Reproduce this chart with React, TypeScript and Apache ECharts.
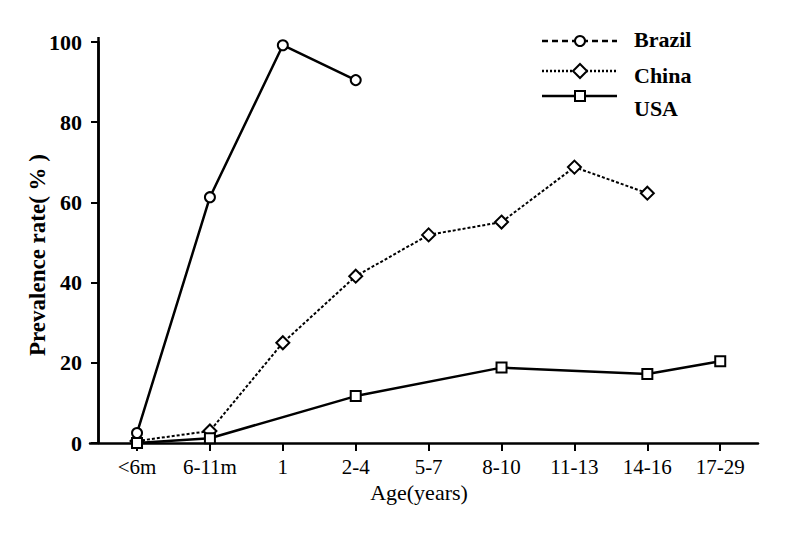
import React, { useEffect, useRef } from "react";
import * as echarts from "echarts";

const categories = ["<6m", "6-11m", "1", "2-4", "5-7", "8-10", "11-13", "14-16", "17-29"];
const brazil: (number | null)[] = [2.5, 61.3, 99.2, 90.5, null, null, null, null, null];
const china: (number | null)[] = [0.5, 3, 25, 41.6, 51.9, 55.1, 68.8, 62.3, null];
const usa: (number | null)[] = [0, 1.2, null, 11.7, null, 18.8, null, 17.2, 20.4];
const legendNames = ["Brazil", "China", "USA"];

const FONT = "'Liberation Serif', 'DejaVu Serif', serif";
const X_OFFSET = 0.535; // gap between y axis and first category, in category units
const X_MIN = -0.11;
const X_MAX = 9.053;

const toPairs = (arr: (number | null)[]) => arr.map((v, i) => [i + X_OFFSET, v]);

export default function App() {
  const ref = useRef<HTMLDivElement>(null);
  useEffect(() => {
    if (!ref.current) return;
    const chart = echarts.init(ref.current, null, { renderer: "svg" });
    const idx = categories.map((_, i) => i + X_OFFSET);
    const markerStyle = { color: "#fff", borderColor: "#000", borderWidth: 2 };

    const legendY = [41, 71, 96];
    const legendTextY = [39, 75, 108];
    const legendDash: any[] = [[6, 4], [2, 2], null];
    const legendGraphics: any[] = [];
    legendNames.forEach((name, i) => {
      legendGraphics.push({
        type: "line",
        shape: { x1: 542, y1: legendY[i], x2: 617, y2: legendY[i] },
        style: { stroke: "#000", lineWidth: 2.5, lineDash: legendDash[i] || undefined },
      });
      if (i === 0) {
        legendGraphics.push({ type: "circle", shape: { cx: 580, cy: legendY[i], r: 5 }, style: { fill: "#fff", stroke: "#000", lineWidth: 2 } });
      } else if (i === 1) {
        legendGraphics.push({
          type: "polygon",
          shape: { points: [[580, legendY[i] - 7], [587, legendY[i]], [580, legendY[i] + 7], [573, legendY[i]]] },
          style: { fill: "#fff", stroke: "#000", lineWidth: 2 },
        });
      } else {
        legendGraphics.push({ type: "rect", shape: { x: 575, y: legendY[i] - 5, width: 10, height: 10 }, style: { fill: "#fff", stroke: "#000", lineWidth: 2 } });
      }
      legendGraphics.push({
        type: "text",
        x: 634,
        y: legendTextY[i],
        style: { text: name, fill: "#000", font: `bold 22px ${FONT}`, textAlign: "left", textVerticalAlign: "middle" },
      });
    });

    chart.setOption({
      animation: false,
      backgroundColor: "#fff",
      grid: { left: 90, right: 32, top: 42, bottom: 107 },
      xAxis: {
        type: "value",
        min: X_MIN,
        max: X_MAX,
        splitLine: { show: false },
        axisLine: { show: true, onZero: false, lineStyle: { color: "#000", width: 2.5 } },
        axisTick: { show: true, customValues: idx, length: 8, lineStyle: { color: "#000", width: 2 } },
        axisLabel: {
          customValues: idx,
          formatter: (v: number) => categories[Math.round(v - X_OFFSET)] ?? "",
          color: "#000",
          fontSize: 21,
          fontFamily: FONT,
          margin: 13,
        },
      },
      yAxis: {
        type: "value",
        position: "left",
        offset: -8,
        min: 0,
        max: 100,
        interval: 20,
        splitLine: { show: false },
        axisLine: { show: true, onZero: false, lineStyle: { color: "#000", width: 2.5 } },
        axisTick: { show: true, length: 7, lineStyle: { color: "#000", width: 2 } },
        axisLabel: { color: "#000", fontSize: 22, fontWeight: "bold", fontFamily: FONT, margin: 16 },
      },
      graphic: [
        ...legendGraphics,
        {
          type: "line",
          z: 100,
          shape: { x1: 98.5, y1: 37, x2: 98.5, y2: 444 },
          style: { stroke: "#000", lineWidth: 2.5 },
        },
        {
          type: "text",
          x: 37,
          y: 255,
          rotation: Math.PI / 2,
          style: { text: "Prevalence rate( % )", fill: "#000", font: `bold 23px ${FONT}`, textAlign: "center", textVerticalAlign: "middle" },
        },
        {
          type: "text",
          x: 419,
          y: 492,
          style: { text: "Age(years)", fill: "#000", font: `22px ${FONT}`, textAlign: "center", textVerticalAlign: "middle" },
        },
      ],
      series: [
        {
          name: "Brazil",
          type: "line",
          data: toPairs(brazil),
          connectNulls: true,
          symbol: "circle",
          symbolSize: 10,
          showAllSymbol: true,
          lineStyle: { color: "#000", width: 2.5, type: "solid" },
          itemStyle: markerStyle,
          z: 3,
        },
        {
          name: "China",
          type: "line",
          data: toPairs(china),
          connectNulls: true,
          symbol: "diamond",
          symbolSize: 13,
          showAllSymbol: true,
          lineStyle: { color: "#000", width: 2, type: [3, 2] },
          itemStyle: markerStyle,
          z: 2,
        },
        {
          name: "USA",
          type: "line",
          data: toPairs(usa),
          connectNulls: true,
          symbol: "rect",
          symbolSize: 10,
          showAllSymbol: true,
          lineStyle: { color: "#000", width: 2.5, type: "solid" },
          itemStyle: markerStyle,
          z: 4,
        },
      ],
    });
    return () => chart.dispose();
  }, []);
  return <div ref={ref} style={{ position: "fixed", left: 0, top: 0, width: 790, height: 550 }} />;
}
